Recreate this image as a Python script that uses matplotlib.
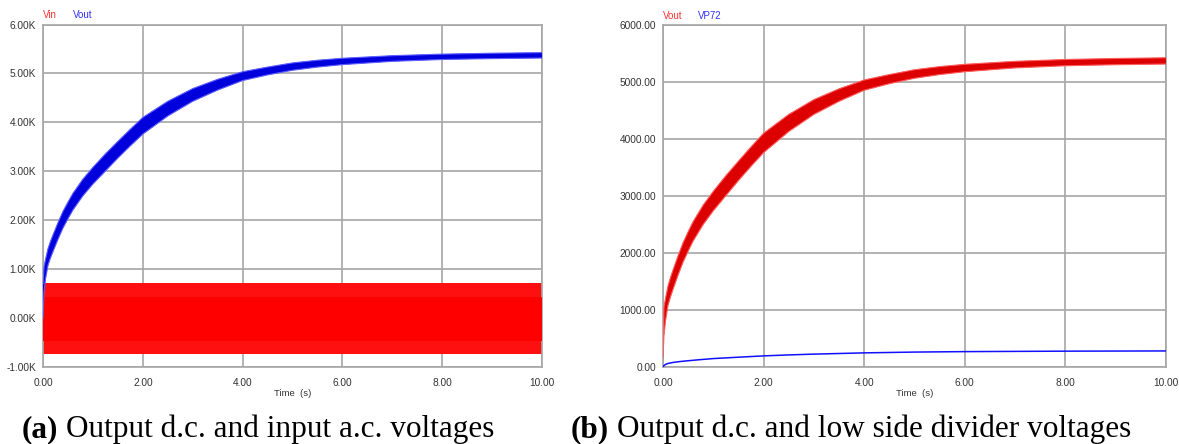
import matplotlib
matplotlib.use("Agg")
import matplotlib.pyplot as plt

# ---------------- data ----------------
# Panel (a): Vout ripple envelope (upper / lower)
t_env = [0.0, 0.02, 0.05, 0.1, 0.15, 0.2, 0.3, 0.4, 0.5, 0.6, 0.8, 1.0, 1.25, 1.5, 1.75,
         2.0, 2.5, 3.0, 3.5, 4.0, 4.5, 5.0, 5.5, 6.0, 7.0, 8.0, 9.0, 10.0]
vout_upper = [700, 1050, 1200, 1420, 1570, 1700, 1950, 2180, 2370, 2550, 2840, 3080, 3355, 3610, 3860,
              4100, 4430, 4690, 4880, 5035, 5130, 5215, 5270, 5310, 5363, 5395, 5413, 5425]
vout_lower = [0, 550, 800, 1080, 1230, 1360, 1610, 1840, 2030, 2210, 2500, 2740, 3005, 3270, 3520,
              3760, 4130, 4430, 4660, 4855, 4970, 5065, 5130, 5180, 5247, 5285, 5303, 5315]

# Panel (a): Vin a.c. band (outer peaks and dense core)
t_vin = [0.0, 10.0]
vin_peak = [720, 720]
vin_trough = [-730, -730]
vin_core_hi = [440, 440]
vin_core_lo = [-460, -460]

# Panel (b): Vout ripple envelope and VP72 divider voltage
t_b = t_env
voutb_upper = [200, 1050, 1200, 1420, 1570, 1700, 1950, 2180, 2370, 2550, 2840, 3080, 3355, 3610, 3860,
               4100, 4430, 4690, 4880, 5035, 5130, 5215, 5270, 5310, 5363, 5395, 5413, 5425]
voutb_lower = [150, 550, 800, 1080, 1230, 1360, 1610, 1840, 2030, 2210, 2500, 2740, 3005, 3270, 3520,
               3760, 4130, 4430, 4660, 4855, 4970, 5065, 5130, 5180, 5247, 5285, 5303, 5315]

t_vp72 = [0.0, 0.02, 0.05, 0.1, 0.2, 0.35, 0.5, 0.75, 1.0, 1.5, 2.0, 2.5, 3.0, 4.0, 5.0, 6.0, 8.0, 10.0]
vp72 = [0, 25, 45, 62, 80, 97, 110, 130, 148, 172, 195, 212, 226, 248, 262, 270, 278, 282]

xticks = [0, 2, 4, 6, 8, 10]
xticklabels = ["0.00", "2.00", "4.00", "6.00", "8.00", "10.00"]
yticks_a = [-1000, 0, 1000, 2000, 3000, 4000, 5000, 6000]
yticklabels_a = ["-1.00K", "0.00K", "1.00K", "2.00K", "3.00K", "4.00K", "5.00K", "6.00K"]
yticks_b = [0, 1000, 2000, 3000, 4000, 5000, 6000]
yticklabels_b = ["0.00", "1000.00", "2000.00", "3000.00", "4000.00", "5000.00", "6000.00"]

cap_tags = ["(a)", "(b)"]
cap_texts = ["Output d.c. and input a.c. voltages", "Output d.c. and low side divider voltages"]

# ---------------- drawing ----------------
plt.rcParams["font.family"] = ["Liberation Sans", "DejaVu Sans"]
plt.rcParams["hatch.linewidth"] = 0.6
fig = plt.figure(figsize=(11.79, 4.44), dpi=100)

GRID = "#a6a6a6"
TICKFS = 7.3
TXT = "#333333"


def style(ax, ylim, yticks, ylabels):
    ax.set_xlim(0, 10)
    ax.set_ylim(*ylim)
    ax.set_xticks(xticks)
    ax.set_xticklabels(xticklabels)
    ax.set_yticks(yticks)
    ax.set_yticklabels(ylabels)
    ax.tick_params(length=0, labelsize=TICKFS, colors=TXT, pad=5)
    ax.tick_params(axis="x", pad=8)
    ax.grid(True, color=GRID, linewidth=1.2)
    ax.set_axisbelow(True)
    for s in ax.spines.values():
        s.set_color(GRID)
        s.set_linewidth(1.2)
    ax.annotate("Time  (s)", xy=(5.0, 0), xycoords=("data", "axes fraction"), xytext=(0, -16),
                textcoords="offset points", fontsize=6.8, color=TXT, ha="center", va="top")


# Panel (a)
ax1 = fig.add_axes([0.0365, 0.1734, 0.4232, 0.7714])
style(ax1, (-1000, 6000), yticks_a, yticklabels_a)
ax1.fill_between(t_vin, vin_trough, vin_peak, facecolor="#ffc4c4", edgecolor="#ff1010",
                 hatch="|" * 30, linewidth=0, zorder=2)
ax1.fill_between(t_vin, vin_core_lo, vin_core_hi, color="#ff0000", linewidth=0, zorder=3)
ax1.fill_between(t_env, vout_lower, vout_upper, facecolor="#1515ff", edgecolor="#0000dd",
                 hatch="|" * 30, linewidth=0, zorder=4)
ax1.plot(t_env, vout_upper, color="#6060ff", linewidth=0.8, zorder=4)
ax1.plot(t_env, vout_lower, color="#6060ff", linewidth=0.8, zorder=4)
ax1.text(0.0, 1.012, "Vin", color="#ff3030", fontsize=7, transform=ax1.transAxes, va="bottom")
ax1.text(0.06, 1.012, "Vout", color="#3030ff", fontsize=7, transform=ax1.transAxes, va="bottom")

# Panel (b)
ax2 = fig.add_axes([0.5623, 0.1734, 0.4266, 0.7703])
style(ax2, (0, 6000), yticks_b, yticklabels_b)
ax2.fill_between(t_b, voutb_lower, voutb_upper, facecolor="#ff1515", edgecolor="#dd0000",
                 hatch="|" * 30, linewidth=0, zorder=3)
ax2.plot(t_b, voutb_upper, color="#ff6060", linewidth=0.8, zorder=3)
ax2.plot(t_b, voutb_lower, color="#ff6060", linewidth=0.8, zorder=3)
ax2.plot(t_vp72, vp72, color="#1010ff", linewidth=1.1, zorder=4)
ax2.text(0.0, 1.012, "Vout", color="#ff3030", fontsize=7, transform=ax2.transAxes, va="bottom")
ax2.text(0.07, 1.012, "VP72", color="#3030ff", fontsize=7, transform=ax2.transAxes, va="bottom")

# Captions
serif = ["Liberation Serif", "DejaVu Serif"]
CAPFS = 22.5
base_y = 7 / 444
renderer = fig.canvas.get_renderer()
for x0, tag, body in zip([22 / 1179, 571 / 1179], cap_tags, cap_texts):
    t1 = fig.text(x0, base_y, tag, fontsize=CAPFS, fontweight="bold", family=serif, va="baseline")
    bb = t1.get_window_extent(renderer)
    fig.text((bb.x1 + 8) / fig.bbox.width, base_y, body, fontsize=CAPFS, family=serif, va="baseline")

fig.savefig("out.png", dpi=100)
